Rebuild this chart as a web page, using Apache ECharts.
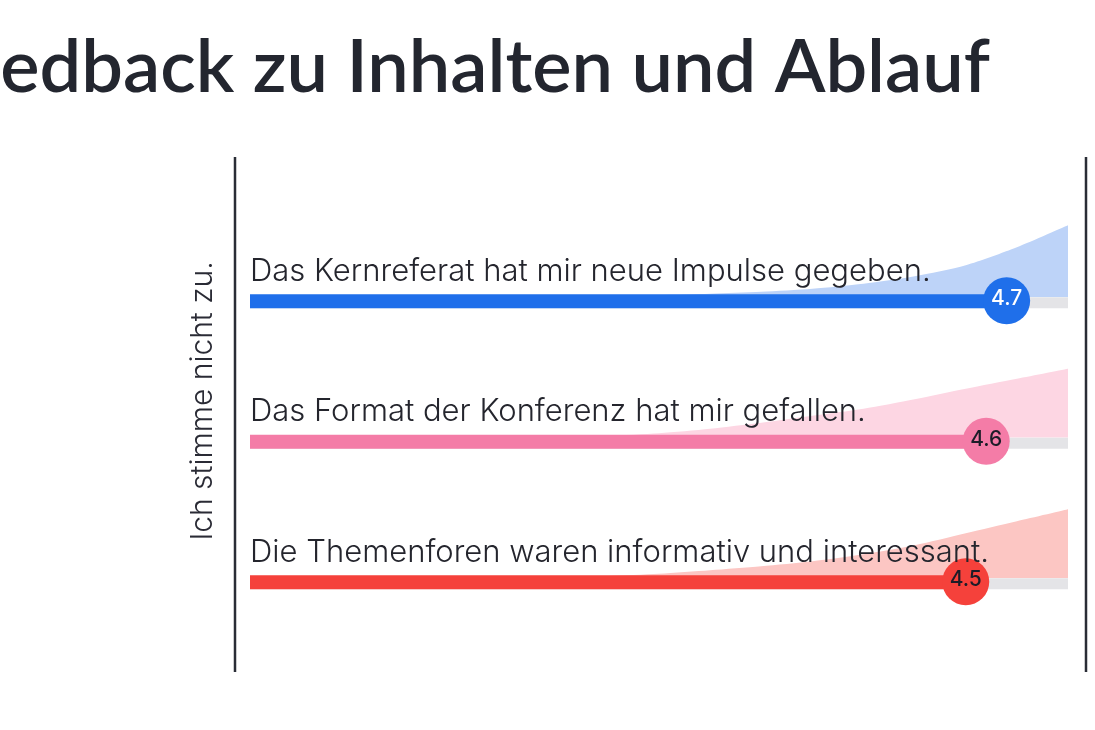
<!DOCTYPE html>
<html>
<head>
<meta charset="utf-8">
<script src="https://cdn.jsdelivr.net/npm/echarts@6/dist/echarts.min.js"></script>
<style>
html,body{margin:0;padding:0;background:#fff;}
#chart{width:1095px;height:730px;}
</style>
</head>
<body>
<div id="chart"></div>
<script>
// ---- data ----
const statements = [
  'Das Kernreferat hat mir neue Impulse gegeben.',
  'Das Format der Konferenz hat mir gefallen.',
  'Die Themenforen waren informativ und interessant.'
];
const means = [4.7, 4.6, 4.5];
const ratings = [1, 1.25, 1.5, 1.75, 2, 2.25, 2.5, 2.75, 3, 3.25, 3.5, 3.75, 4, 4.25, 4.5, 4.75, 5];
const densityKern   = [0, 0, 0, 0, 0.2, 0.4, 0.8, 1.4, 2.2, 3.5, 5.5, 8.5, 13.5, 21, 32, 50, 72];
const densityFormat = [0, 0, 0, 0, 0, 0.3, 0.8, 2, 4.5, 9, 15, 22, 29, 38.5, 49, 59, 69];
const densityForen  = [0, 0, 0, 0, 0, 0.4, 1, 2.2, 4.5, 8, 12, 17, 24, 33, 45, 57, 69];
const scaleMin = 1, scaleMax = 5;
const axisNote = 'Ich stimme nicht zu.';
const titleText = 'Feedback zu Inhalten und Ablauf';

// ---- styles ----
const barColors = ['#1f6fea', '#f47ca7', '#f5413b'];
const areaColors = ['#bdd3f8', '#fdd6e3', '#fcc6c3'];
const circleText = ['#ffffff', '#1c1c28', '#1c1c28'];
const densities = [densityKern, densityFormat, densityForen];
const areaBase = [297.25, 437.75, 578.25];

const chart = echarts.init(document.getElementById('chart'));

const grids = [{ left: 250, right: 27, top: 232.5, height: 421.5 }];
const xAxes = [{ type: 'value', gridIndex: 0, min: scaleMin, max: scaleMax, show: false }];
const yAxes = [{
  type: 'category', gridIndex: 0, data: statements, inverse: true,
  z: 20,
  axisLine: { show: false }, axisTick: { show: false }, splitLine: { show: false },
  axisLabel: {
    inside: true, margin: 0, verticalAlign: 'bottom', padding: [0, 0, 16, 0],
    fontFamily: 'Inter', fontSize: 31, fontWeight: 300, color: '#24252d'
  }
}];
const series = [];

densities.forEach((d, i) => {
  grids.push({ left: 250, right: 27, top: areaBase[i] - 100, height: 100 });
  xAxes.push({ type: 'value', gridIndex: i + 1, min: scaleMin, max: scaleMax, show: false });
  yAxes.push({ type: 'value', gridIndex: i + 1, min: 0, max: 100, show: false });
  series.push({
    type: 'line', xAxisIndex: i + 1, yAxisIndex: i + 1, z: 1,
    data: ratings.map((r, k) => [r, d[k]]),
    smooth: 0.25, showSymbol: false, silent: true,
    lineStyle: { width: 0 },
    areaStyle: { color: areaColors[i], opacity: 1 }
  });
});

series.push({
  type: 'bar', xAxisIndex: 0, yAxisIndex: 0, z: 2,
  data: means.map(() => scaleMax),
  barWidth: 11, barGap: '-127.27%',
  itemStyle: { color: '#e4e4e7' }, silent: true
});
series.push({
  type: 'bar', xAxisIndex: 0, yAxisIndex: 0, z: 3,
  data: means.map((v, i) => ({ value: v, itemStyle: { color: barColors[i] } })),
  barWidth: 14, barGap: '-127.27%'
});
series.push({
  type: 'scatter', xAxisIndex: 0, yAxisIndex: 0, z: 10,
  symbol: 'circle', symbolSize: 47, symbolOffset: [0, -2],
  data: means.map((v, i) => ({
    value: [v, i],
    itemStyle: { color: barColors[i], opacity: 1 },
    label: { color: circleText[i] }
  })),
  label: {
    show: true, position: 'inside', offset: [0, -2],
    formatter: p => p.value[0].toFixed(1),
    fontFamily: 'Inter', fontSize: 21, fontWeight: 500
  }
});

chart.setOption({
  backgroundColor: '#ffffff',
  animation: false,
  title: {
    text: titleText, right: 105, top: 31, padding: 0,
    textStyle: { fontFamily: 'Lato', fontSize: 74, fontWeight: 600, color: '#23262f' }
  },
  grid: grids,
  xAxis: xAxes,
  yAxis: yAxes,
  series: series,
  graphic: [
    { type: 'line', shape: { x1: 235, y1: 157, x2: 235, y2: 672 }, style: { stroke: '#2a2d36', lineWidth: 2.5 } },
    { type: 'line', shape: { x1: 1086, y1: 157, x2: 1086, y2: 672 }, style: { stroke: '#2a2d36', lineWidth: 2.5 } },
    {
      type: 'text', x: 203, y: 401, rotation: Math.PI / 2,
      style: {
        text: axisNote, x: 0, y: 0, align: 'center', verticalAlign: 'middle',
        font: '300 30px Inter', fill: '#2a2b35'
      }
    }
  ]
});
</script>
</body>
</html>
